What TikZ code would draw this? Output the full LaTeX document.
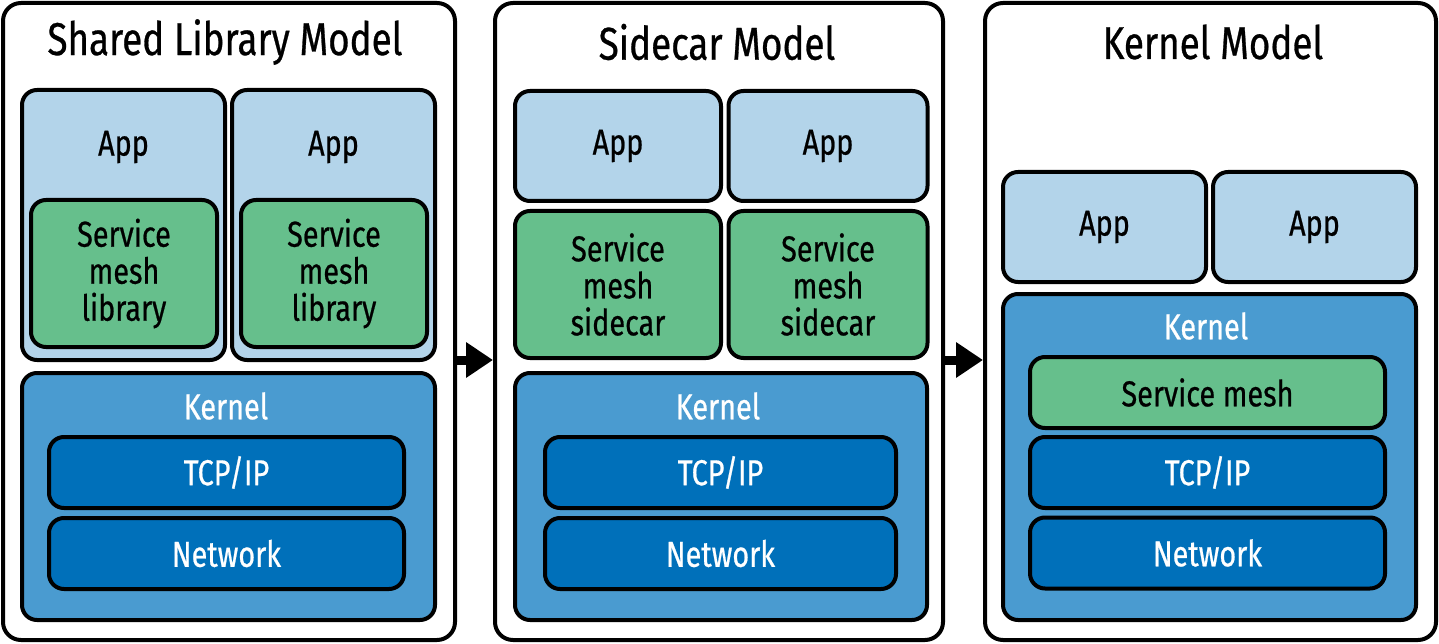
\documentclass[tikz,border=0pt]{standalone}
\usepackage{fontspec}
\setmainfont{Fira Sans}[FakeStretch=0.8, FakeBold=0.6]
\usetikzlibrary{arrows.meta}
\definecolor{appblue}{HTML}{B3D4EA}
\definecolor{meshgreen}{HTML}{66BF8C}
\definecolor{kernblue}{HTML}{4A9BD0}
\definecolor{netblue}{HTML}{0070BA}
\tikzset{
  box/.style={draw=black, line width=4pt, rounded corners=15pt, inner sep=0pt},
  panel/.style={box, fill=white, rounded corners=18pt},
  appbox/.style={box, fill=appblue},
  meshbox/.style={box, fill=meshgreen},
  kernbox/.style={box, fill=kernblue},
  netbox/.style={box, fill=netblue, minimum width=355pt, minimum height=71pt,
    text=white, font=\fontsize{36}{37}\selectfont},
  title/.style={font=\fontsize{46}{48}\selectfont},
  txt/.style={font=\fontsize{36}{37}\selectfont, align=center},
  wtxt/.style={txt, text=white},
  flow/.style={line width=9pt, -{Triangle[length=27pt,width=34pt]}}
}
\begin{document}
\begin{tikzpicture}[x=1pt,y=-1pt]
\useasboundingbox (0,0) rectangle (1439,644);
% panels
\node[panel, minimum width=452pt, minimum height=637pt] (p1) at (229,321.5) {};
\node[panel, minimum width=448pt, minimum height=637pt] (p2) at (719,321.5) {};
\node[panel, minimum width=451pt, minimum height=637pt] (p3) at (1210.5,321.5) {};
\node[title] (t1) at (225,42) {Shared Library Model};
\node[title] (t2) at (717,42) {Sidecar Model};
\node[title] (t3) at (1213,42) {Kernel Model};

% shared library model
\node[appbox, minimum width=203pt, minimum height=270pt] (a1) at (123.5,225) {};
\node[appbox, minimum width=203pt, minimum height=270pt] (a2) at (333.5,225) {};
\node[txt] (a1t) at (123.5,147) {App};
\node[txt] (a2t) at (333.5,147) {App};
\node[meshbox, minimum width=186pt, minimum height=147pt, txt] (l1) at (124,273.5) {Service\\mesh\\library};
\node[meshbox, minimum width=186pt, minimum height=147pt, txt] (l2) at (334,273.5) {Service\\mesh\\library};
\node[kernbox, minimum width=413pt, minimum height=247pt] (k1) at (228.5,496.5) {};
\node[wtxt] (k1t) at (226,406) {Kernel};
\node[netbox] (tcp1) at (226.5,472.5) {TCP/IP};
\node[netbox] (net1) at (226.5,553.5) {Network};

% sidecar model
\node[appbox, minimum width=206pt, minimum height=110pt, txt] (a3) at (618,146) {App};
\node[appbox, minimum width=199pt, minimum height=110pt, txt] (a4) at (828,146) {App};
\node[meshbox, minimum width=206pt, minimum height=147pt, txt] (s1) at (618,284.5) {Service\\mesh\\sidecar};
\node[meshbox, minimum width=199pt, minimum height=147pt, txt] (s2) at (828,284.5) {Service\\mesh\\sidecar};
\node[kernbox, minimum width=412pt, minimum height=247pt] (k2) at (721,496.5) {};
\node[wtxt] (k2t) at (718,406) {Kernel};
\node[netbox, minimum width=351pt] (tcp2) at (720.5,472.5) {TCP/IP};
\node[netbox, minimum width=351pt] (net2) at (720.5,553.5) {Network};

% kernel model
\node[appbox, minimum width=203pt, minimum height=110pt, txt] (a5) at (1104.5,227) {App};
\node[appbox, minimum width=203pt, minimum height=110pt, txt] (a6) at (1314.5,227) {App};
\node[kernbox, minimum width=413pt, minimum height=326pt] (k3) at (1209.5,457) {};
\node[wtxt] (k3t) at (1206,326) {Kernel};
\node[netbox, fill=meshgreen, text=black] (m3) at (1207.5,392.5) {Service mesh};
\node[netbox] (tcp3) at (1207.5,472.5) {TCP/IP};
\node[netbox] (net3) at (1207.5,553) {Network};

\draw[flow] ([yshift=-38.5pt]p1.east) -- ([yshift=-38.5pt]p2.west);
\draw[flow] ([yshift=-38.5pt]p2.east) -- ([yshift=-38.5pt]p3.west);
\end{tikzpicture}
\end{document}
